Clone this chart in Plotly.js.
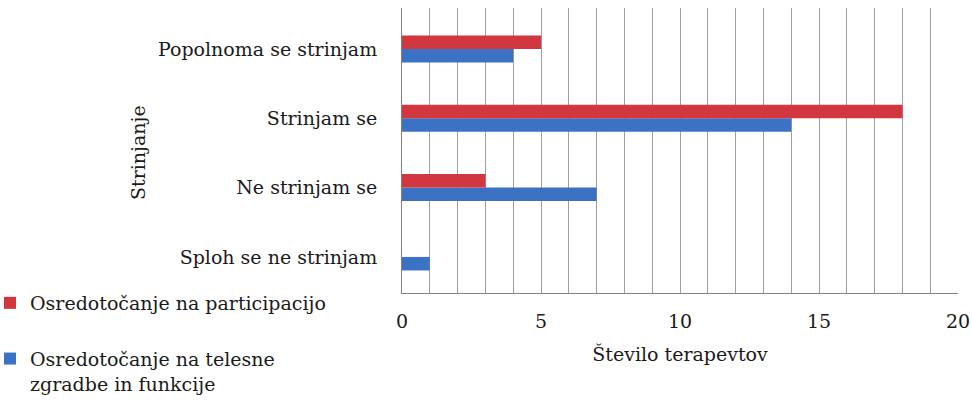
<!DOCTYPE html>
<html>
<head>
<meta charset="utf-8">
<script src="https://cdn.plot.ly/plotly-3.0.1.min.js"></script>
<style>html,body{margin:0;padding:0;background:#fff;}#chart{width:972px;height:403px;}</style>
</head>
<body>
<div id="chart"></div>
<script>
const categories = ['Sploh se ne strinjam', 'Ne strinjam se', 'Strinjam se', 'Popolnoma se strinjam'];
const participacija = [0, 3, 18, 5];
const telesne = [1, 7, 14, 4];
const seriesNames = ['Osredotočanje na participacijo', 'Osredotočanje na telesne<br>zgradbe in funkcije'];
const xTickVals = [0, 5, 10, 15, 20];

const font = 'DejaVu Serif';
const fs = 19;
const txt = '#1a1a1a';

const traces = [
  {type: 'bar', orientation: 'h', y: categories, x: telesne, name: seriesNames[1],
   marker: {color: '#3b72c4'}, legendgroup: 'b', legendrank: 2, hoverinfo: 'x+y'},
  {type: 'bar', orientation: 'h', y: categories, x: participacija, name: seriesNames[0],
   marker: {color: '#d2363f'}, legendgroup: 'a', legendrank: 1, hoverinfo: 'x+y'},
  {type: 'scatter', x: [0, 20], y: [categories[0], categories[0]], xaxis: 'x2', mode: 'markers',
   marker: {opacity: 0}, showlegend: false, hoverinfo: 'skip'}
];

const plotW = 556, plotH = 285, plotL = 402, plotB = 293;

const layout = {
  width: 972, height: 403,
  margin: {l: 402, r: 14, t: 8, b: 110, autoexpand: false},
  paper_bgcolor: '#ffffff', plot_bgcolor: '#ffffff',
  font: {family: font, size: fs, color: txt},
  barmode: 'group', bargap: 0.61, bargroupgap: 0,
  xaxis: {
    range: [0, 20], dtick: 1, tickmode: 'linear', tick0: 0,
    showgrid: true, gridcolor: '#a89a9a', gridwidth: 1,
    showticklabels: false, zeroline: false,
    showline: true, linecolor: '#8a7f7f', linewidth: 1,
    ticks: '', title: {text: ''}, automargin: false
  },
  xaxis2: {
    overlaying: 'x', anchor: 'y', side: 'bottom', range: [0, 20],
    tickmode: 'array', tickvals: xTickVals, ticktext: xTickVals.map(String),
    showgrid: false, zeroline: false, showline: false, ticks: '',
    tickfont: {family: font, size: fs, color: txt}, ticklabelstandoff: 15,
    title: {text: 'Število terapevtov', font: {family: font, size: fs, color: txt}, standoff: 16},
    automargin: false
  },
  yaxis: {
    type: 'category', categoryorder: 'array', categoryarray: categories,
    range: [-0.52, 3.59],
    showgrid: false, zeroline: false, showline: true, linecolor: '#8a7f7f', linewidth: 1,
    ticks: '', ticklabelstandoff: 20,
    tickfont: {family: font, size: fs, color: txt},
    title: {text: ''}, automargin: false
  },
  annotations: [{
    text: 'Strinjanje', xref: 'paper', yref: 'paper',
    x: (138 - plotL) / plotW, y: (plotB - 153) / plotH,
    xanchor: 'center', yanchor: 'middle', textangle: -90, showarrow: false,
    font: {family: font, size: fs, color: txt}
  }],
  showlegend: true,
  legend: {
    xref: 'paper', yref: 'paper', x: (-10 - plotL) / plotW, y: (plotB - 284) / plotH,
    xanchor: 'left', yanchor: 'top',
    traceorder: 'grouped', tracegroupgap: 28, valign: 'top',
    font: {family: font, size: fs, color: txt},
    itemwidth: 30, bgcolor: 'rgba(0,0,0,0)'
  }
};

Plotly.newPlot('chart', traces, layout, {displayModeBar: false, staticPlot: true});
</script>
</body>
</html>
